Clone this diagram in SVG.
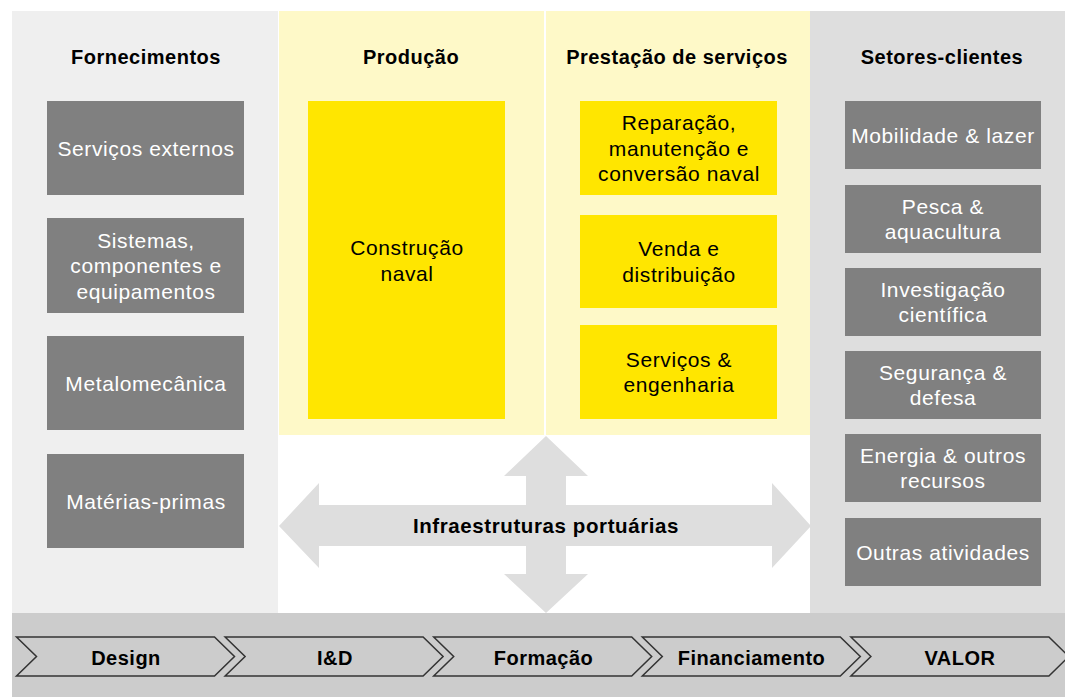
<svg xmlns="http://www.w3.org/2000/svg" width="1065" height="697" viewBox="0 0 1065 697">
<style>
.hd{font-family:"Liberation Sans",Arial,sans-serif;font-weight:bold;font-size:20px;letter-spacing:0.5px;fill:#000;text-anchor:middle}
.tw{font-family:"Liberation Sans",Arial,sans-serif;font-size:21px;letter-spacing:0.6px;fill:#fff;text-anchor:middle}
.tb{font-family:"Liberation Sans",Arial,sans-serif;font-size:21px;letter-spacing:0.6px;fill:#000;text-anchor:middle}
.gbox{fill:#808080}
.ybox{fill:#ffe600}
.chev{fill:#cccccc;stroke:#333;stroke-width:1.5;stroke-linejoin:miter}
</style>
<rect width="1065" height="697" fill="#fff"/>
<g id="panels">
<rect x="12" y="11" width="266" height="602" fill="#efefef"/>
<rect x="279" y="11" width="265" height="424" fill="#fef9c8"/>
<rect x="546" y="11" width="264" height="424" fill="#fef9c8"/>
<rect x="810" y="11" width="255" height="602" fill="#dedede"/>
<rect x="12" y="613" width="1053" height="84" fill="#cccccc"/>
</g>
<g id="headings">
<text class="hd" x="146" y="64">Fornecimentos</text>
<text class="hd" x="411" y="64">Produção</text>
<text class="hd" x="677" y="64">Prestação de serviços</text>
<text class="hd" x="942" y="64">Setores-clientes</text>
</g>
<g id="connectors">
<polygon fill="#dedede" points="546,436 588,476 566,476 566,505 772,505 772,483 811,526 772,568 772,546 566,546 566,574 588,574 546,613 504,574 526,574 526,546 319,546 319,568 279,526 319,483 319,505 526,505 526,476 504,476"/>
</g>
<g id="infraestruturas">
<text class="hd" x="546" y="533" style="font-size:20.5px;letter-spacing:0.6px">Infraestruturas portuárias</text>
</g>
<g id="servicos-externos"><rect class="gbox" x="47" y="101" width="197" height="94"/><text class="tw" x="146" y="155.5">Serviços externos</text></g>
<g id="sistemas"><rect class="gbox" x="47" y="218" width="197" height="95"/><text class="tw" x="146" y="247.5">Sistemas,</text><text class="tw" x="146" y="273">componentes e</text><text class="tw" x="146" y="298.5">equipamentos</text></g>
<g id="metalomecanica"><rect class="gbox" x="47" y="336" width="197" height="94"/><text class="tw" x="146" y="390.5">Metalomecânica</text></g>
<g id="materias-primas"><rect class="gbox" x="47" y="454" width="197" height="94"/><text class="tw" x="146" y="508.5">Matérias-primas</text></g>
<g id="construcao-naval"><rect class="ybox" x="308" y="101" width="197" height="318"/><text class="tb" x="407" y="255">Construção</text><text class="tb" x="407" y="280.5">naval</text></g>
<g id="reparacao"><rect class="ybox" x="580" y="101" width="197" height="94"/><text class="tb" x="679" y="130">Reparação,</text><text class="tb" x="679" y="155.5">manutenção e</text><text class="tb" x="679" y="181">conversão naval</text></g>
<g id="venda"><rect class="ybox" x="580" y="215" width="197" height="93"/><text class="tb" x="679" y="256">Venda e</text><text class="tb" x="679" y="281.5">distribuição</text></g>
<g id="servicos-engenharia"><rect class="ybox" x="580" y="325" width="197" height="94"/><text class="tb" x="679" y="366.5">Serviços &amp;</text><text class="tb" x="679" y="392">engenharia</text></g>
<g id="mobilidade"><rect class="gbox" x="845" y="101" width="196" height="68"/><text class="tw" x="943" y="142.5">Mobilidade &amp; lazer</text></g>
<g id="pesca"><rect class="gbox" x="845" y="185" width="196" height="68"/><text class="tw" x="943" y="213.5">Pesca &amp;</text><text class="tw" x="943" y="239">aquacultura</text></g>
<g id="investigacao"><rect class="gbox" x="845" y="268" width="196" height="68"/><text class="tw" x="943" y="296.5">Investigação</text><text class="tw" x="943" y="322">científica</text></g>
<g id="seguranca"><rect class="gbox" x="845" y="351" width="196" height="68"/><text class="tw" x="943" y="379.5">Segurança &amp;</text><text class="tw" x="943" y="405">defesa</text></g>
<g id="energia"><rect class="gbox" x="845" y="434" width="196" height="68"/><text class="tw" x="943" y="462.5">Energia &amp; outros</text><text class="tw" x="943" y="488">recursos</text></g>
<g id="outras"><rect class="gbox" x="845" y="518" width="196" height="68"/><text class="tw" x="943" y="559.5">Outras atividades</text></g>
<g id="design"><polygon class="chev" points="16.5,637 214.5,637 234.5,656.5 214.5,676 16.5,676 36.5,656.5"/><text class="hd" x="126" y="664.5">Design</text></g>
<g id="id"><polygon class="chev" points="225.1,637 423.1,637 443.1,656.5 423.1,676 225.1,676 245.1,656.5"/><text class="hd" x="335" y="664.5">I&amp;D</text></g>
<g id="formacao"><polygon class="chev" points="433.7,637 631.7,637 651.7,656.5 631.7,676 433.7,676 453.7,656.5"/><text class="hd" x="543.5" y="664.5">Formação</text></g>
<g id="financiamento"><polygon class="chev" points="642.3,637 840.3,637 860.3,656.5 840.3,676 642.3,676 662.3,656.5"/><text class="hd" x="751.5" y="664.5">Financiamento</text></g>
<g id="valor"><polygon class="chev" points="850.9,637 1048.9,637 1068.9,656.5 1048.9,676 850.9,676 870.9,656.5"/><text class="hd" x="960" y="664.5">VALOR</text></g>
</svg>
